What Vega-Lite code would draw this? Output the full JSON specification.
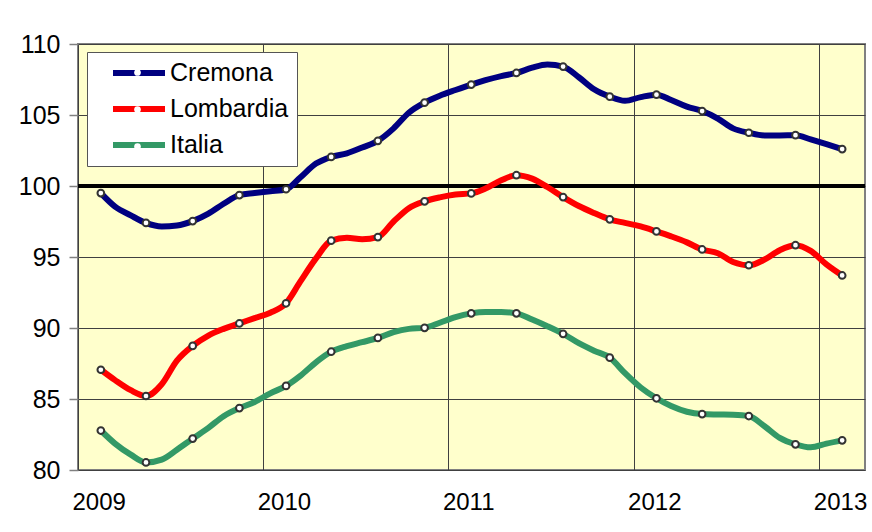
{
  "$schema": "https://vega.github.io/schema/vega-lite/v6.json",
  "width": 787,
  "height": 426,
  "autosize": {"type": "none"},
  "padding": {"left": 78, "top": 44, "right": 7, "bottom": 62},
  "background": "white",
  "config": {
    "font": "Liberation Sans",
    "view": {"fill": "#FFFFCC", "stroke": "#808080", "strokeWidth": 2}
  },
  "data": {
    "format": {"parse": {"d": "date"}},
    "values": [
      {"s": "Cremona", "d": "2009-02-15", "v": 99.5},
      {"s": "Cremona", "d": "2009-03-15", "v": 98.55},
      {"s": "Cremona", "d": "2009-04-15", "v": 97.93},
      {"s": "Cremona", "d": "2009-05-15", "v": 97.4},
      {"s": "Cremona", "d": "2009-06-15", "v": 97.15},
      {"s": "Cremona", "d": "2009-07-15", "v": 97.22},
      {"s": "Cremona", "d": "2009-08-15", "v": 97.53},
      {"s": "Cremona", "d": "2009-09-15", "v": 98.05},
      {"s": "Cremona", "d": "2009-10-15", "v": 98.75},
      {"s": "Cremona", "d": "2009-11-15", "v": 99.36},
      {"s": "Cremona", "d": "2009-12-15", "v": 99.5},
      {"s": "Cremona", "d": "2010-01-15", "v": 99.63},
      {"s": "Cremona", "d": "2010-02-15", "v": 99.77},
      {"s": "Cremona", "d": "2010-03-15", "v": 100.6},
      {"s": "Cremona", "d": "2010-04-15", "v": 101.58},
      {"s": "Cremona", "d": "2010-05-15", "v": 102.05},
      {"s": "Cremona", "d": "2010-06-15", "v": 102.3},
      {"s": "Cremona", "d": "2010-07-15", "v": 102.71},
      {"s": "Cremona", "d": "2010-08-15", "v": 103.18},
      {"s": "Cremona", "d": "2010-09-15", "v": 104.06},
      {"s": "Cremona", "d": "2010-10-15", "v": 105.16},
      {"s": "Cremona", "d": "2010-11-15", "v": 105.87},
      {"s": "Cremona", "d": "2010-12-15", "v": 106.36},
      {"s": "Cremona", "d": "2011-01-15", "v": 106.76},
      {"s": "Cremona", "d": "2011-02-15", "v": 107.14},
      {"s": "Cremona", "d": "2011-03-15", "v": 107.45},
      {"s": "Cremona", "d": "2011-04-15", "v": 107.74},
      {"s": "Cremona", "d": "2011-05-15", "v": 107.96},
      {"s": "Cremona", "d": "2011-06-15", "v": 108.33},
      {"s": "Cremona", "d": "2011-07-15", "v": 108.55},
      {"s": "Cremona", "d": "2011-08-15", "v": 108.41},
      {"s": "Cremona", "d": "2011-09-15", "v": 107.66},
      {"s": "Cremona", "d": "2011-10-15", "v": 106.81},
      {"s": "Cremona", "d": "2011-11-15", "v": 106.29},
      {"s": "Cremona", "d": "2011-12-15", "v": 106.0},
      {"s": "Cremona", "d": "2012-01-15", "v": 106.26},
      {"s": "Cremona", "d": "2012-02-15", "v": 106.43},
      {"s": "Cremona", "d": "2012-03-15", "v": 106.06},
      {"s": "Cremona", "d": "2012-04-15", "v": 105.59},
      {"s": "Cremona", "d": "2012-05-15", "v": 105.28},
      {"s": "Cremona", "d": "2012-06-15", "v": 104.75},
      {"s": "Cremona", "d": "2012-07-15", "v": 104.06},
      {"s": "Cremona", "d": "2012-08-15", "v": 103.75},
      {"s": "Cremona", "d": "2012-09-15", "v": 103.56},
      {"s": "Cremona", "d": "2012-10-15", "v": 103.56},
      {"s": "Cremona", "d": "2012-11-15", "v": 103.58},
      {"s": "Cremona", "d": "2012-12-15", "v": 103.28},
      {"s": "Cremona", "d": "2013-01-15", "v": 102.95},
      {"s": "Cremona", "d": "2013-02-15", "v": 102.6},
      {"s": "Lombardia", "d": "2009-02-15", "v": 87.06},
      {"s": "Lombardia", "d": "2009-03-15", "v": 86.33},
      {"s": "Lombardia", "d": "2009-04-15", "v": 85.62},
      {"s": "Lombardia", "d": "2009-05-15", "v": 85.21},
      {"s": "Lombardia", "d": "2009-06-15", "v": 86.04},
      {"s": "Lombardia", "d": "2009-07-15", "v": 87.7},
      {"s": "Lombardia", "d": "2009-08-15", "v": 88.74},
      {"s": "Lombardia", "d": "2009-09-15", "v": 89.47},
      {"s": "Lombardia", "d": "2009-10-15", "v": 89.94},
      {"s": "Lombardia", "d": "2009-11-15", "v": 90.32},
      {"s": "Lombardia", "d": "2009-12-15", "v": 90.7},
      {"s": "Lombardia", "d": "2010-01-15", "v": 91.08},
      {"s": "Lombardia", "d": "2010-02-15", "v": 91.74},
      {"s": "Lombardia", "d": "2010-03-15", "v": 93.26},
      {"s": "Lombardia", "d": "2010-04-15", "v": 94.9},
      {"s": "Lombardia", "d": "2010-05-15", "v": 96.15},
      {"s": "Lombardia", "d": "2010-06-15", "v": 96.35},
      {"s": "Lombardia", "d": "2010-07-15", "v": 96.25},
      {"s": "Lombardia", "d": "2010-08-15", "v": 96.4},
      {"s": "Lombardia", "d": "2010-09-15", "v": 97.5},
      {"s": "Lombardia", "d": "2010-10-15", "v": 98.44},
      {"s": "Lombardia", "d": "2010-11-15", "v": 98.92},
      {"s": "Lombardia", "d": "2010-12-15", "v": 99.2},
      {"s": "Lombardia", "d": "2011-01-15", "v": 99.4},
      {"s": "Lombardia", "d": "2011-02-15", "v": 99.48},
      {"s": "Lombardia", "d": "2011-03-15", "v": 99.82},
      {"s": "Lombardia", "d": "2011-04-15", "v": 100.4},
      {"s": "Lombardia", "d": "2011-05-15", "v": 100.76},
      {"s": "Lombardia", "d": "2011-06-15", "v": 100.52},
      {"s": "Lombardia", "d": "2011-07-15", "v": 99.93},
      {"s": "Lombardia", "d": "2011-08-15", "v": 99.22},
      {"s": "Lombardia", "d": "2011-09-15", "v": 98.59},
      {"s": "Lombardia", "d": "2011-10-15", "v": 98.1},
      {"s": "Lombardia", "d": "2011-11-15", "v": 97.65},
      {"s": "Lombardia", "d": "2011-12-15", "v": 97.4},
      {"s": "Lombardia", "d": "2012-01-15", "v": 97.15},
      {"s": "Lombardia", "d": "2012-02-15", "v": 96.8},
      {"s": "Lombardia", "d": "2012-03-15", "v": 96.45},
      {"s": "Lombardia", "d": "2012-04-15", "v": 96.03},
      {"s": "Lombardia", "d": "2012-05-15", "v": 95.53},
      {"s": "Lombardia", "d": "2012-06-15", "v": 95.27},
      {"s": "Lombardia", "d": "2012-07-15", "v": 94.65},
      {"s": "Lombardia", "d": "2012-08-15", "v": 94.42},
      {"s": "Lombardia", "d": "2012-09-15", "v": 94.82},
      {"s": "Lombardia", "d": "2012-10-15", "v": 95.48},
      {"s": "Lombardia", "d": "2012-11-15", "v": 95.83},
      {"s": "Lombardia", "d": "2012-12-15", "v": 95.43},
      {"s": "Lombardia", "d": "2013-01-15", "v": 94.48},
      {"s": "Lombardia", "d": "2013-02-15", "v": 93.7},
      {"s": "Italia", "d": "2009-02-15", "v": 82.78},
      {"s": "Italia", "d": "2009-03-15", "v": 81.86},
      {"s": "Italia", "d": "2009-04-15", "v": 81.08},
      {"s": "Italia", "d": "2009-05-15", "v": 80.53},
      {"s": "Italia", "d": "2009-06-15", "v": 80.73},
      {"s": "Italia", "d": "2009-07-15", "v": 81.43},
      {"s": "Italia", "d": "2009-08-15", "v": 82.21},
      {"s": "Italia", "d": "2009-09-15", "v": 82.97},
      {"s": "Italia", "d": "2009-10-15", "v": 83.79},
      {"s": "Italia", "d": "2009-11-15", "v": 84.36},
      {"s": "Italia", "d": "2009-12-15", "v": 84.79},
      {"s": "Italia", "d": "2010-01-15", "v": 85.4},
      {"s": "Italia", "d": "2010-02-15", "v": 85.92},
      {"s": "Italia", "d": "2010-03-15", "v": 86.63},
      {"s": "Italia", "d": "2010-04-15", "v": 87.58},
      {"s": "Italia", "d": "2010-05-15", "v": 88.33},
      {"s": "Italia", "d": "2010-06-15", "v": 88.72},
      {"s": "Italia", "d": "2010-07-15", "v": 89.0},
      {"s": "Italia", "d": "2010-08-15", "v": 89.3},
      {"s": "Italia", "d": "2010-09-15", "v": 89.71},
      {"s": "Italia", "d": "2010-10-15", "v": 89.94},
      {"s": "Italia", "d": "2010-11-15", "v": 90.01},
      {"s": "Italia", "d": "2010-12-15", "v": 90.37},
      {"s": "Italia", "d": "2011-01-15", "v": 90.77},
      {"s": "Italia", "d": "2011-02-15", "v": 91.03},
      {"s": "Italia", "d": "2011-03-15", "v": 91.13},
      {"s": "Italia", "d": "2011-04-15", "v": 91.13},
      {"s": "Italia", "d": "2011-05-15", "v": 91.03},
      {"s": "Italia", "d": "2011-06-15", "v": 90.6},
      {"s": "Italia", "d": "2011-07-15", "v": 90.13},
      {"s": "Italia", "d": "2011-08-15", "v": 89.59},
      {"s": "Italia", "d": "2011-09-15", "v": 88.93},
      {"s": "Italia", "d": "2011-10-15", "v": 88.4},
      {"s": "Italia", "d": "2011-11-15", "v": 87.91},
      {"s": "Italia", "d": "2011-12-15", "v": 86.82},
      {"s": "Italia", "d": "2012-01-15", "v": 85.81},
      {"s": "Italia", "d": "2012-02-15", "v": 85.05},
      {"s": "Italia", "d": "2012-03-15", "v": 84.5},
      {"s": "Italia", "d": "2012-04-15", "v": 84.1},
      {"s": "Italia", "d": "2012-05-15", "v": 83.94},
      {"s": "Italia", "d": "2012-06-15", "v": 83.91},
      {"s": "Italia", "d": "2012-07-15", "v": 83.89},
      {"s": "Italia", "d": "2012-08-15", "v": 83.8},
      {"s": "Italia", "d": "2012-09-15", "v": 83.08},
      {"s": "Italia", "d": "2012-10-15", "v": 82.26},
      {"s": "Italia", "d": "2012-11-15", "v": 81.81},
      {"s": "Italia", "d": "2012-12-15", "v": 81.6},
      {"s": "Italia", "d": "2013-01-15", "v": 81.86},
      {"s": "Italia", "d": "2013-02-15", "v": 82.09}
    ]
  },
  "encoding": {
    "x": {
      "field": "d",
      "type": "temporal",
      "scale": {
        "type": "utc",
        "domain": [
          {"year": 2009, "month": 1, "date": 1, "utc": true},
          {"year": 2013, "month": 4, "date": 1, "utc": true}
        ]
      },
      "axis": {
        "title": null,
        "values": [
          {"year": 2009, "month": 1, "date": 1, "utc": true},
          {"year": 2010, "month": 1, "date": 1, "utc": true},
          {"year": 2011, "month": 1, "date": 1, "utc": true},
          {"year": 2012, "month": 1, "date": 1, "utc": true},
          {"year": 2013, "month": 1, "date": 1, "utc": true}
        ],
        "format": "%Y",
        "grid": true,
        "gridColor": "#404040",
        "gridWidth": 1,
        "gridOpacity": 1,
        "ticks": false,
        "tickSize": 0,
        "domain": false,
        "labelAlign": "left",
        "labelOffset": -6,
        "labelBaseline": "top",
        "labelPadding": 20,
        "labelFontSize": 24,
        "labelColor": "black",
        "labelFont": "Liberation Sans",
        "labelFlush": false,
        "labelOverlap": false
      }
    },
    "y": {
      "field": "v",
      "type": "quantitative",
      "scale": {"domain": [80, 110], "nice": false, "zero": false},
      "axis": {
        "title": null,
        "values": [80, 85, 90, 95, 100, 105, 110],
        "grid": true,
        "gridColor": "#404040",
        "gridWidth": 1,
        "gridOpacity": 1,
        "ticks": true,
        "tickSize": 9,
        "tickColor": "#808080",
        "tickWidth": 1.5,
        "domain": false,
        "labelPadding": 9,
        "labelFontSize": 25,
        "labelColor": "black",
        "labelFont": "Liberation Sans",
        "labelFlush": false,
        "labelOverlap": false
      }
    }
  },
  "layer": [
    {
      "mark": {"type": "rule", "color": "black", "strokeWidth": 4},
      "encoding": {"y": {"datum": 100}, "x": null}
    },
    {
      "mark": {"type": "line", "strokeWidth": 6, "interpolate": "monotone", "strokeCap": "butt"},
      "encoding": {
        "color": {
          "field": "s",
          "type": "nominal",
          "scale": {
            "domain": ["Cremona", "Lombardia", "Italia"],
            "range": ["#000080", "#FF0000", "#339966"]
          },
          "legend": {
            "title": null,
            "orient": "none",
            "legendX": 9,
            "legendY": 8,
            "fillColor": "white",
            "strokeColor": "#555555",
            "padding": 8,
            "symbolType": "M-2.6,0H2.6",
            "symbolStrokeWidth": 6,
            "symbolSize": 400,
            "symbolOffset": 31,
            "labelOffset": 18,
            "labelFontSize": 25,
            "labelFont": "Liberation Sans",
            "labelColor": "black",
            "labelExpr": "datum.label + '\u00a0'",
            "rowPadding": 10,
            "labelLimit": 300,
            "zindex": 1
          }
        },
        "sort": {"field": "d"}
      }
    },
    {
      "transform": [
        {"filter": "utcmonth(datum.d) % 3 == 1"},
        {"calculate": "datum.s", "as": "mk"}
      ],
      "mark": {"type": "point", "filled": true, "fill": "white", "stroke": "#333333", "strokeWidth": 2, "size": 45, "opacity": 1},
      "encoding": {
        "shape": {
          "field": "mk",
          "type": "nominal",
          "scale": {"range": ["circle", "circle", "circle"]},
          "sort": ["Cremona", "Lombardia", "Italia"],
          "legend": {
            "title": null,
            "orient": "none",
            "legendX": 9,
            "legendY": 8,
            "padding": 8,
            "symbolOffset": 30,
            "symbolSize": 45,
            "symbolFillColor": "white",
            "symbolStrokeColor": "#333333",
            "symbolStrokeWidth": 2,
            "symbolOpacity": 1,
            "labelFontSize": 25,
            "labelExpr": "''",
            "rowPadding": 11,
            "zindex": 2
          }
        }
      }
    }
  ]
}
